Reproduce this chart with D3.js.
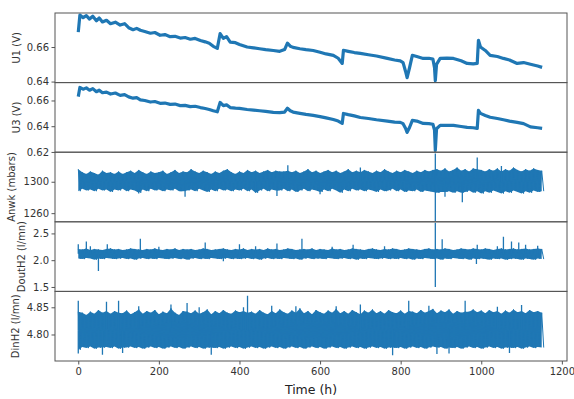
<!DOCTYPE html>
<html>
<head>
<meta charset="utf-8">
<script src="https://cdn.jsdelivr.net/npm/d3@7"></script>
<style>
  body { margin: 0; background: #fff; }
  text { font-family: "DejaVu Sans", sans-serif; }
</style>
</head>
<body>
<svg id="chart" width="574" height="399"></svg>
<script>
// --- cell voltages (time in h) ---
const tU = [0, 4, 12, 20, 28, 36, 45, 52, 60, 70, 80, 92, 104, 115, 125, 136, 145, 154, 165, 179,
  190, 203, 215, 228, 240, 253, 265, 278, 290, 303, 315, 325, 335, 345, 352, 360, 368, 377, 390, 400,
  419, 435, 450, 465, 484, 500, 512, 519, 526, 533, 550, 565, 583, 600, 615, 633, 645, 655, 658, 670,
  685, 700, 720, 740, 767, 785, 799, 806, 812, 816, 822, 829, 840, 856, 870, 880, 884, 886, 889, 898,
  915, 931, 950, 965, 980, 990, 993, 998, 1010, 1022, 1040, 1055, 1070, 1089, 1105, 1122, 1140, 1151];
const u1 = [0.6686, 0.6785, 0.6770, 0.6782, 0.6762, 0.6778, 0.6752, 0.6768, 0.6745, 0.6755, 0.6735, 0.6744, 0.6727, 0.6735, 0.6712, 0.6700, 0.6708, 0.6697, 0.6690, 0.6680,
  0.6684, 0.6668, 0.6672, 0.6660, 0.6662, 0.6652, 0.6655, 0.6645, 0.6650, 0.6638, 0.6630, 0.6622, 0.6604, 0.6592, 0.6678, 0.6650, 0.6660, 0.6628, 0.6625, 0.6615,
  0.6600, 0.6595, 0.6590, 0.6585, 0.6580, 0.6575, 0.6585, 0.6622, 0.6605, 0.6598, 0.6590, 0.6585, 0.6580, 0.6570, 0.6560, 0.6552, 0.6535, 0.6505, 0.6581, 0.6575,
  0.6568, 0.6563, 0.6555, 0.6548, 0.6534, 0.6525, 0.6520, 0.6510, 0.6460, 0.6423, 0.6480, 0.6552, 0.6545, 0.6534, 0.6535, 0.6530, 0.6480, 0.6406, 0.6500, 0.6534,
  0.6536, 0.6534, 0.6520, 0.6505, 0.6502, 0.6505, 0.6639, 0.6600, 0.6580, 0.6552, 0.6545, 0.6534, 0.6525, 0.6505, 0.6510, 0.6500, 0.6490, 0.6482];
const u3 = [0.6630, 0.6701, 0.6688, 0.6698, 0.6680, 0.6692, 0.6668, 0.6680, 0.6660, 0.6665, 0.6650, 0.6658, 0.6640, 0.6645, 0.6628, 0.6618, 0.6622, 0.6605, 0.6600, 0.6588,
  0.6592, 0.6578, 0.6580, 0.6570, 0.6572, 0.6560, 0.6562, 0.6552, 0.6555, 0.6545, 0.6538, 0.6530, 0.6520, 0.6512, 0.6585, 0.6560, 0.6566, 0.6545, 0.6540, 0.6538,
  0.6530, 0.6525, 0.6520, 0.6515, 0.6508, 0.6505, 0.6510, 0.6540, 0.6520, 0.6510, 0.6500, 0.6492, 0.6484, 0.6475, 0.6465, 0.6452, 0.6440, 0.6422, 0.6499, 0.6490,
  0.6480, 0.6468, 0.6460, 0.6450, 0.6440, 0.6432, 0.6430, 0.6420, 0.6385, 0.6352, 0.6390, 0.6445, 0.6440, 0.6422, 0.6420, 0.6415, 0.6370, 0.6212, 0.6380, 0.6406,
  0.6406, 0.6406, 0.6398, 0.6391, 0.6388, 0.6383, 0.6523, 0.6500, 0.6484, 0.6470, 0.6460, 0.6450, 0.6440, 0.6430, 0.6420, 0.6395, 0.6388, 0.6383];

// --- noisy signals: band top / bottom in each 10 h bin, then isolated spikes ---
const tBins = d3.range(0, 1160, 10);
const anwkHi = [1316, 1312, 1310, 1313, 1311, 1309, 1314, 1311, 1312, 1310, 1313, 1310, 1312, 1314, 1311, 1315, 1312, 1310, 1313, 1311,
  1312, 1314, 1310, 1312, 1315, 1311, 1313, 1312, 1316, 1313, 1311, 1314, 1312, 1310, 1313, 1311, 1314, 1316, 1312, 1310,
  1313, 1311, 1315, 1312, 1314, 1311, 1313, 1315, 1312, 1314, 1313, 1313, 1314, 1312, 1314, 1311, 1313, 1316, 1312, 1314,
  1311, 1313, 1315, 1312, 1314, 1311, 1313, 1316, 1312, 1314, 1312, 1315, 1313, 1311, 1314, 1312, 1316, 1313, 1311, 1314,
  1312, 1315, 1313, 1311, 1314, 1312, 1315, 1313, 1315, 1316, 1314, 1317, 1313, 1315, 1318, 1314, 1316, 1313, 1317, 1316,
  1315, 1313, 1316, 1314, 1317, 1313, 1316, 1314, 1318, 1315, 1313, 1316, 1314, 1317, 1315, 1314];
const anwkLo = [1288, 1291, 1289, 1290, 1288, 1291, 1289, 1290, 1287, 1290, 1289, 1291, 1288, 1290, 1289, 1286, 1290, 1288, 1291, 1289,
  1290, 1288, 1290, 1289, 1291, 1288, 1288, 1289, 1290, 1288, 1291, 1289, 1287, 1290, 1288, 1291, 1289, 1290, 1288, 1290,
  1289, 1291, 1288, 1290, 1286, 1289, 1291, 1288, 1290, 1289, 1289, 1291, 1288, 1290, 1287, 1289, 1291, 1288, 1290, 1289,
  1287, 1290, 1288, 1291, 1289, 1286, 1290, 1288, 1291, 1289, 1290, 1288, 1290, 1289, 1287, 1290, 1288, 1289, 1291, 1288,
  1290, 1287, 1289, 1288, 1290, 1287, 1289, 1288, 1287, 1286, 1287, 1287, 1288, 1286, 1288, 1286, 1287, 1289, 1286, 1288,
  1285, 1288, 1286, 1289, 1287, 1285, 1288, 1286, 1289, 1287, 1285, 1288, 1286, 1289, 1287, 1288];
const anwkSpikeT = [150, 265, 440, 493, 520, 600, 700, 886, 886, 910, 953, 990, 1050];
const anwkSpikeV = [1285, 1281, 1286, 1282, 1321, 1284, 1318, 1336, 1250, 1281, 1274, 1331, 1320];

const doutHi = [2.21, 2.20, 2.22, 2.19, 2.21, 2.20, 2.19, 2.21, 2.22, 2.20, 2.21, 2.19, 2.20, 2.22, 2.21, 2.20, 2.19, 2.21, 2.20, 2.22,
  2.20, 2.19, 2.21, 2.20, 2.22, 2.19, 2.21, 2.20, 2.21, 2.19, 2.20, 2.22, 2.21, 2.19, 2.20, 2.21, 2.22, 2.20, 2.19, 2.21,
  2.20, 2.22, 2.19, 2.21, 2.20, 2.21, 2.19, 2.22, 2.20, 2.21, 2.19, 2.20, 2.22, 2.21, 2.19, 2.20, 2.21, 2.20, 2.22, 2.19,
  2.21, 2.20, 2.19, 2.22, 2.20, 2.21, 2.19, 2.20, 2.22, 2.21, 2.20, 2.19, 2.21, 2.22, 2.20, 2.19, 2.21, 2.20, 2.22, 2.21,
  2.19, 2.20, 2.22, 2.21, 2.20, 2.19, 2.21, 2.22, 2.20, 2.21, 2.20, 2.22, 2.21, 2.19, 2.20, 2.22, 2.21, 2.20, 2.22, 2.21,
  2.20, 2.22, 2.21, 2.19, 2.21, 2.22, 2.20, 2.21, 2.22, 2.20, 2.21, 2.22, 2.20, 2.21, 2.22, 2.21];
const doutLo = [2.03, 2.02, 2.04, 2.03, 2.01, 2.03, 2.02, 2.04, 2.03, 2.02, 2.03, 2.04, 2.02, 2.03, 2.01, 2.03, 2.04, 2.02, 2.03, 2.02,
  2.04, 2.03, 2.02, 2.03, 2.04, 2.02, 2.03, 2.01, 2.03, 2.04, 2.02, 2.03, 2.02, 2.04, 2.03, 2.02, 2.03, 2.04, 2.02, 2.03,
  2.02, 2.03, 2.04, 2.02, 2.03, 2.01, 2.03, 2.04, 2.02, 2.03, 2.02, 2.04, 2.03, 2.02, 2.03, 2.01, 2.03, 2.04, 2.02, 2.03,
  2.03, 2.02, 2.04, 2.03, 2.02, 2.03, 2.04, 2.02, 2.03, 2.01, 2.03, 2.02, 2.04, 2.03, 2.02, 2.03, 2.04, 2.02, 2.03, 2.02,
  2.04, 2.02, 2.03, 2.01, 2.03, 2.02, 2.04, 2.03, 2.02, 2.03, 2.01, 2.03, 2.02, 2.04, 2.03, 2.02, 2.03, 2.01, 2.03, 2.02,
  2.03, 2.02, 2.01, 2.03, 2.02, 2.03, 2.01, 2.02, 2.03, 2.02, 2.01, 2.03, 2.02, 2.01, 2.03, 2.02];
const doutSpikeT = [0, 20, 30, 72, 154, 200, 315, 400, 440, 493, 555, 630, 682, 760, 886, 886, 903, 990, 1040, 1055, 1075, 1093, 1110, 1140, 50, 360, 988];
const doutSpikeV = [2.30, 2.35, 2.26, 2.30, 2.40, 2.25, 2.33, 2.30, 2.26, 2.31, 2.40, 2.25, 2.29, 2.26, 2.70, 1.50, 2.39, 2.29, 2.26, 2.44, 2.35, 2.33, 2.29, 2.27, 1.80, 1.98, 1.93];

const dinHi = [4.842, 4.840, 4.836, 4.842, 4.838, 4.845, 4.840, 4.843, 4.838, 4.843, 4.840, 4.839, 4.844, 4.837, 4.841, 4.846, 4.838, 4.843, 4.840, 4.845,
  4.837, 4.842, 4.839, 4.848, 4.840, 4.836, 4.843, 4.842, 4.839, 4.844, 4.838, 4.841, 4.846, 4.837, 4.843, 4.839, 4.845, 4.840, 4.838, 4.844,
  4.841, 4.843, 4.840, 4.842, 4.838, 4.845, 4.840, 4.837, 4.843, 4.839, 4.846, 4.841, 4.838, 4.844, 4.840, 4.848, 4.839, 4.843, 4.837, 4.845,
  4.841, 4.838, 4.844, 4.840, 4.847, 4.839, 4.843, 4.838, 4.845, 4.841, 4.837, 4.844, 4.840, 4.846, 4.839, 4.843, 4.838, 4.845, 4.841, 4.839,
  4.844, 4.838, 4.843, 4.842, 4.839, 4.845, 4.840, 4.843, 4.847, 4.839, 4.844, 4.841, 4.846, 4.838, 4.843, 4.840, 4.842, 4.842, 4.846, 4.841,
  4.844, 4.839, 4.845, 4.841, 4.843, 4.838, 4.844, 4.840, 4.846, 4.841, 4.843, 4.839, 4.845, 4.841, 4.843, 4.840];
const dinLo = [4.772, 4.777, 4.775, 4.778, 4.774, 4.776, 4.776, 4.777, 4.775, 4.778, 4.774, 4.776, 4.776, 4.778, 4.775, 4.777, 4.774, 4.776, 4.778, 4.775,
  4.777, 4.774, 4.776, 4.778, 4.775, 4.777, 4.774, 4.776, 4.778, 4.775, 4.777, 4.774, 4.776, 4.776, 4.775, 4.777, 4.774, 4.776, 4.778, 4.775,
  4.777, 4.774, 4.776, 4.778, 4.775, 4.777, 4.774, 4.776, 4.778, 4.775, 4.777, 4.774, 4.776, 4.778, 4.775, 4.777, 4.774, 4.776, 4.778, 4.775,
  4.777, 4.774, 4.776, 4.778, 4.775, 4.777, 4.774, 4.776, 4.778, 4.775, 4.777, 4.774, 4.776, 4.778, 4.775, 4.777, 4.774, 4.776, 4.776, 4.775,
  4.777, 4.774, 4.776, 4.778, 4.775, 4.777, 4.774, 4.776, 4.778, 4.776, 4.777, 4.774, 4.776, 4.775, 4.777, 4.774, 4.776, 4.778, 4.775, 4.777,
  4.774, 4.776, 4.778, 4.775, 4.777, 4.774, 4.776, 4.776, 4.775, 4.777, 4.774, 4.776, 4.778, 4.775, 4.777, 4.776];
const dinSpikeT = [0, 70, 100, 150, 230, 270, 300, 410, 420, 480, 540, 640, 700, 820, 870, 960, 1040, 1100,
  0, 60, 110, 330, 780, 890, 920, 1070];
const dinSpikeV = [4.862, 4.860, 4.862, 4.852, 4.855, 4.858, 4.850, 4.850, 4.871, 4.853, 4.852, 4.852, 4.855, 4.862, 4.853, 4.862, 4.851, 4.854,
  4.765, 4.763, 4.766, 4.763, 4.762, 4.764, 4.765, 4.766];

const xTicks = [0, 200, 400, 600, 800, 1000, 1200];
const yLabels = ["U1 (V)", "U3 (V)", "Anwk (mbars)", "DoutH2 (l/mn)", "DinH2 (l/mn)"];
const yTicks = [[0.66, 0.64], [0.66, 0.64, 0.62], [1300, 1260], [2.5, 2.0, 1.5], [4.85, 4.80]];

const panels = [
  { kind: "line", v: u1, domain: [0.6394, 0.6797], fmt: ".2f", labelX: 16 },
  { kind: "line", v: u3, domain: [0.6198, 0.6739], fmt: ".2f", labelX: 16 },
  { kind: "band", hi: anwkHi, lo: anwkLo, st: anwkSpikeT, sv: anwkSpikeV, domain: [1249, 1337.6], fmt: "d", labelX: 11.5 },
  { kind: "band", hi: doutHi, lo: doutLo, st: doutSpikeT, sv: doutSpikeV, domain: [1.417, 2.717], fmt: ".1f", labelX: 21.5 },
  { kind: "band", hi: dinHi, lo: dinLo, st: dinSpikeT, sv: dinSpikeV, domain: [4.7513, 4.8792], fmt: ".2f", labelX: 15 }
];

const mLeft = 55, mRight = 567, mTop = 13, mBottom = 361;
const ph = (mBottom - mTop) / panels.length;
const color = "#1f77b4";
const frame = "#555";

const svg = d3.select("#chart");
const x = d3.scaleLinear().domain([-57.75, 1212.75]).range([mLeft, mRight]);

panels.forEach((p, i) => {
  const y0 = mTop + i * ph;
  const y = d3.scaleLinear().domain(p.domain).range([y0 + ph, y0]);
  const g = svg.append("g");

  g.append("clipPath").attr("id", "clip" + i)
    .append("rect").attr("x", mLeft).attr("y", y0).attr("width", mRight - mLeft).attr("height", ph);
  const plot = g.append("g").attr("clip-path", `url(#clip${i})`);

  if (p.kind === "line") {
    const line = d3.line().x((d, j) => x(tU[j])).y(d => y(d));
    plot.append("path")
      .datum(p.v)
      .attr("fill", "none")
      .attr("stroke", color)
      .attr("stroke-width", 3.2)
      .attr("stroke-linejoin", "round")
      .attr("d", line);
  } else {
    // solid body of the dense signal
    const area = d3.area().x((d, j) => x(tBins[j])).y0((d, j) => y(p.lo[j])).y1(d => y(d));
    plot.append("path").datum(p.hi).attr("fill", color).attr("d", area);
    // zig-zag over it to roughen the edges
    const zz = tBins.flatMap((t, j) => [[t, p.hi[j]], [t + 5, p.lo[j]]]);
    plot.append("path").datum(zz)
      .attr("fill", "none").attr("stroke", color).attr("stroke-width", 1)
      .attr("d", d3.line().x(d => x(d[0])).y(d => y(d[1])));
    // spikes, drawn from the middle of the band out to the spike value
    plot.selectAll("line.spike").data(p.st).join("line")
      .attr("class", "spike")
      .attr("x1", d => x(d)).attr("x2", d => x(d))
      .attr("y1", d => { const j = Math.min(tBins.length - 1, Math.round(d / 10)); return y((p.hi[j] + p.lo[j]) / 2); })
      .attr("y2", (d, j) => y(p.sv[j]))
      .attr("stroke", color).attr("stroke-width", 1.3);
  }

  const ax = g.append("g")
    .attr("transform", `translate(${mLeft},0)`)
    .call(d3.axisLeft(y).tickValues(yTicks[i]).tickFormat(d3.format(p.fmt)).tickSize(3.5).tickPadding(2.5));
  ax.select(".domain").remove();
  ax.selectAll("line").attr("stroke", frame);
  ax.selectAll("text").attr("font-size", 10).attr("fill", "#333").style("font-family", "DejaVu Sans");

  g.append("rect")
    .attr("x", mLeft).attr("y", y0).attr("width", mRight - mLeft).attr("height", ph)
    .attr("fill", "none").attr("stroke", frame).attr("stroke-width", 1);

  g.append("text")
    .attr("transform", `translate(${p.labelX},${y0 + ph / 2}) rotate(-90)`)
    .attr("text-anchor", "middle")
    .attr("dy", "0.35em")
    .attr("font-size", 10)
    .attr("fill", "#333")
    .text(yLabels[i]);
});

// shared time axis
const xa = svg.append("g")
  .attr("transform", `translate(0,${mBottom})`)
  .call(d3.axisBottom(x).tickValues(xTicks).tickFormat(d3.format("d")).tickSize(3.5).tickPadding(3));
xa.select(".domain").remove();
xa.selectAll("line").attr("stroke", frame);
xa.selectAll("text").attr("font-size", 10).attr("fill", "#333").style("font-family", "DejaVu Sans");

svg.append("text")
  .attr("x", (mLeft + mRight) / 2)
  .attr("y", 394)
  .attr("text-anchor", "middle")
  .attr("font-size", 12.5)
  .attr("fill", "#222")
  .text("Time (h)");
</script>
</body>
</html>
